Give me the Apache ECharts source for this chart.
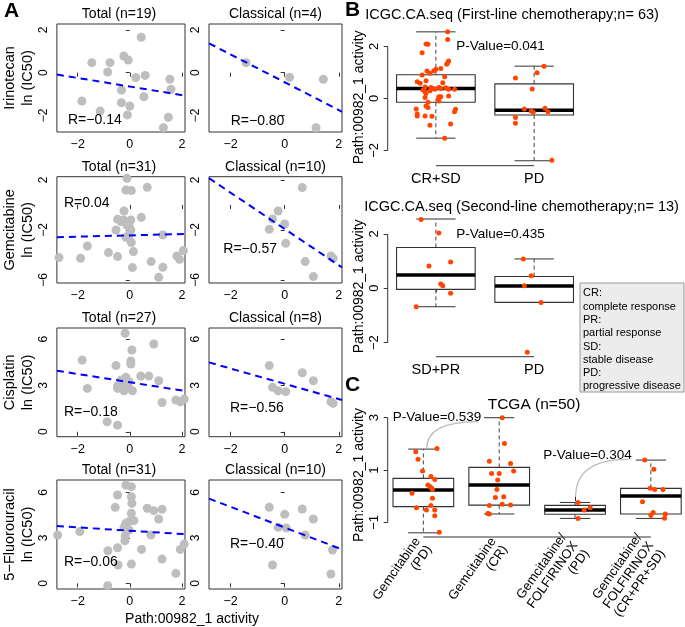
<!DOCTYPE html>
<html>
<head>
<meta charset="utf-8">
<script src="https://cdn.jsdelivr.net/npm/echarts@6/dist/echarts.min.js"></script>
<style>
  html, body { margin: 0; padding: 0; background: #fff; }
  #chart { width: 685px; height: 627px; }
</style>
</head>
<body>
<div id="chart"></div>
<script>
const FONT = '"Liberation Sans", Arial, Helvetica, sans-serif';

// ---- panel A: Path:00982_1 activity (x) vs ln(IC50) (y) ----
const irinoTotal = [[0.44,1.66],[-0.23,0.78],[-0.06,0.59],[-1.46,0.47],[-0.76,0.47],[-0.85,0.03],[0.23,-0.23],[0.59,-0.13],[1.54,-0.31],[1.58,-0.78],[-0.32,-0.81],[0.54,-1.13],[-1.84,-1.33],[-0.32,-1.41],[0.0,-1.56],[-1.14,-1.8],[-0.09,-1.98],[1.48,-2.09],[1.29,-2.58]];
const irinoClassical = [[-1.43,0.47],[0.18,-0.22],[1.43,-0.31],[1.16,-2.58]];
const gemTotal = [[-0.11,2.13],[-0.15,1.2],[0.06,1.15],[0.67,1.41],[-0.22,-0.48],[-0.47,-1.15],[-0.24,-1.2],[0.04,-1.2],[0.44,-0.99],[-0.53,-2.0],[0.04,-2.0],[-0.03,-2.4],[-0.15,-2.59],[0.06,-3.01],[1.27,-2.4],[0.14,-3.73],[-1.63,-3.28],[-2.72,-4.21],[-1.89,-4.27],[-0.82,-3.81],[-0.47,-4.13],[0.82,-4.53],[1.81,-4.08],[1.91,-4.35],[2.06,-3.65],[0.1,-5.01],[1.27,-4.99],[1.11,-5.79],[-0.11,-1.6],[-0.34,-1.33],[-0.03,-1.68]];
const gemClassical = [[0.65,1.39],[-0.24,-0.48],[-0.45,-1.12],[-0.57,-1.95],[0.0,-1.52],[0.04,-3.07],[0.76,-4.53],[1.06,-5.73],[1.71,-4.08],[1.79,-4.27]];
const cisTotal = [[-0.18,6.39],[0.08,5.3],[0.92,5.69],[-1.83,4.65],[-0.53,4.29],[0.04,4.59],[0.04,4.39],[-0.15,3.53],[-0.34,3.35],[-0.47,2.97],[-0.11,3.03],[0.73,3.61],[0.42,3.61],[1.11,3.31],[-1.63,2.81],[-0.47,2.81],[-0.22,2.66],[0.1,2.66],[-0.05,2.88],[1.24,1.9],[1.77,2.06],[1.94,1.95],[2.09,2.12],[-0.87,0.65],[-0.47,0.43],[-0.28,3.03],[-0.03,3.25]];
const cisClassical = [[-0.57,4.29],[0.65,3.83],[1.06,3.31],[-0.45,2.88],[-0.24,2.66],[0.04,2.6],[1.71,1.95],[1.79,1.84]];
const fuTotal = [[-0.15,6.48],[0.06,6.37],[-0.47,5.82],[0.06,5.71],[-0.56,5.01],[0.08,5.27],[0.06,4.62],[0.67,4.95],[0.92,4.79],[1.24,4.88],[1.11,4.24],[-0.03,4.07],[0.16,4.13],[-0.15,3.96],[-0.22,3.69],[-0.03,3.52],[-0.18,3.12],[-0.19,2.81],[-2.77,3.19],[-1.92,3.41],[0.81,3.19],[-0.84,2.15],[-0.47,2.35],[0.45,2.24],[0.06,1.27],[-0.45,1.21],[1.24,1.6],[1.77,0.66],[1.94,2.24],[2.09,2.59],[-0.85,-0.15]];
const fuClassical = [[-0.57,5.01],[0.0,4.55],[0.65,4.9],[1.06,4.24],[-0.24,3.69],[0.06,3.65],[0.76,3.19],[1.77,2.2],[-0.45,1.21],[1.71,0.62]];

const drugs = ['Irinotecan', 'Gemcitabine', 'Cisplatin', '5−Fluorouracil'];
const totalN = [19, 31, 27, 31];
const classicalN = [4, 10, 8, 10];
const rTotal = ['R=−0.14', 'R=0.04', 'R=−0.18', 'R=−0.06'];
const rClassical = ['R=−0.80', 'R=−0.57', 'R=−0.56', 'R=−0.40'];
// fitted lines: [slope, intercept]
const fitTotal = [[-0.201, -0.65], [0.053, -2.43], [-0.268, 3.21], [-0.108, 3.47]];
const fitClassical = [[-0.652, -0.45], [-1.45, -1.92], [-0.496, 3.11], [-0.681, 3.68]];
const aYRange = [[-2.78, 2.28], [-6.24, 2.26], [-0.32, 6.73], [-0.37, 6.81]];
const aYTicks = [[-2, 0, 2], [-6, -2, 2], [0, 3, 6], [0, 3, 6]];
const aXTicks = [-2, 0, 2];

// ---- panel B: ICGC boxplots ----
const firstLineCats = ['CR+SD', 'PD'];
// [x, lowWhisker, Q1, median, Q3, highWhisker]
const firstLineBoxes = [[1, -1.53, -0.15, 0.38, 0.91, 2.56], [2, -2.4, -0.64, -0.46, 0.56, 1.24]];
const firstLinePts = [[1.12,2.56],[1.12,2.27],[0.9,2.09],[0.92,2.08],[0.86,1.76],[1.13,1.44],[1.12,1.37],[1.11,1.31],[1.05,1.15],[1.0,1.12],[0.98,1.06],[0.91,1.05],[0.94,0.97],[0.86,0.9],[1.09,0.83],[0.81,0.64],[0.9,0.68],[0.89,0.44],[0.95,0.42],[0.97,0.38],[1.03,0.42],[1.05,0.38],[1.1,0.41],[1.13,0.35],[1.19,0.35],[0.87,0.32],[0.89,0.26],[0.94,0.29],[0.99,0.35],[0.9,0.19],[0.89,0.03],[1.03,0.06],[1.02,-0.06],[1.05,0.06],[1.13,0.09],[0.92,-0.15],[0.9,-0.29],[0.92,-0.35],[1.03,-0.1],[0.8,-0.41],[0.81,-0.6],[0.81,-0.68],[0.89,-0.68],[0.96,-0.69],[1.2,-0.42],[1.19,-0.51],[1.15,-0.99],[0.94,-1.03],[1.09,-1.53],[0.84,0.58],[1.07,0.6],
  [2.1,1.24],[2.03,0.99],[1.81,0.78],[1.98,0.36],[1.9,-0.41],[1.97,-0.49],[1.99,-0.53],[2.11,-0.38],[2.14,-0.51],[1.81,-0.74],[1.81,-0.96],[2.18,-2.38]];
const secondLineCats = ['SD+PR', 'PD'];
const secondLineBoxes = [[1, -0.68, -0.04, 0.49, 1.5, 2.55], [2, -0.52, -0.52, 0.085, 0.43, 1.08]];
const secondLinePts = [[0.85,2.53],[1.03,2.03],[0.93,0.82],[1.15,0.97],[1.05,0.16],[1.07,0.09],[1.15,-0.18],[0.8,-0.68],
  [1.89,1.08],[1.97,0.46],[1.9,0.09],[2.07,-0.52],[1.93,-2.36]];
const bYTicks = [-2, 0, 2];
const legendLines = ['CR:', 'complete response', 'PR:', 'partial response', 'SD:', 'stable disease', 'PD:', 'progressive disease'];

// ---- panel C: TCGA ----
const tcgaCats = ['Gemcitabine\n(PD)', 'Gemcitabine\n(CR)', 'Gemcitabine/\nFOLFIRINOX\n(PD)', 'Gemcitabine/\nFOLFIRINOX\n(CR+PR+SD)'];
const tcgaBoxes = [[1, -1.4, -0.4, 0.235, 0.68, 1.8], [2, -0.68, -0.34, 0.43, 1.1, 3.0], [3, -0.85, -0.69, -0.53, -0.35, -0.24], [4, -0.85, -0.68, 0.006, 0.3, 1.38]];
const tcgaPts = [[0.9,1.7],[0.93,1.41],[0.99,0.96],[1.1,0.75],[1.15,0.64],[1.09,0.36],[1.11,0.3],[0.85,0.11],[1.12,0.26],[1.12,-0.08],[1.1,-0.36],[0.91,-0.44],[1.04,-0.53],[1.15,-0.53],[1.15,-0.75],[1.21,-1.38],[1.18,1.82],[1.06,0.43],
  [2.04,3.0],[2.07,2.01],[1.87,1.34],[2.15,1.25],[2.19,0.96],[1.9,0.87],[2.0,0.87],[1.98,0.62],[1.97,0.26],[1.95,-0.05],[2.06,-0.02],[1.87,-0.36],[2.04,-0.31],[2.15,-0.34],[1.85,-0.66],[1.87,-0.68],
  [3.04,-0.24],[3.2,-0.44],[3.12,-0.53],[3.04,-0.85],
  [3.92,1.38],[4.04,1.03],[3.99,0.3],[4.05,0.26],[4.16,0.26],[3.89,-0.21],[4.03,-0.62],[4.0,-0.73],[4.19,-0.68],[4.18,-0.84]];
const tcgaPCurves = [[1.045, 1.83, 1.72, 2.85], [3.008, -0.02, 3.70, 1.41]];
const cYTicks = [-1, 1, 3];

const minus = v => String(v).replace('-', '−');

const grids = [], xAxes = [], yAxes = [], series = [], graphics = [];

function txt(text, x, y, size, align, weight) {
  graphics.push({
    type: 'text', x: x, y: y, silent: true, z: 10,
    style: { text: text, font: (weight ? weight + ' ' : '') + size + 'px ' + FONT, fill: '#000', textAlign: align || 'center', textVerticalAlign: 'middle' }
  });
}

function addGrid(g, xa, ya) {
  const i = grids.length;
  grids.push(Object.assign({ containLabel: false }, g));
  xAxes.push(Object.assign({ gridIndex: i, type: 'value', splitLine: { show: false } }, xa));
  yAxes.push(Object.assign({ gridIndex: i, type: 'value', splitLine: { show: false } }, ya));
  return i;
}

// panel A layout
const rowTop = [24, 176.7, 328, 480];
const rowH = [108, 106.3, 108.7, 109];
const colLeft = [53, 209];
const colW = [132, 133];
const rOffset = [[[15, 96], [21.7, 96.7]], [[11, 26], [14.3, 72.6]], [[11, 83.7], [21, 80.3]], [[11, 81.7], [21, 64.3]]];
const allTotal = [irinoTotal, gemTotal, cisTotal, fuTotal];
const allClassical = [irinoClassical, gemClassical, cisClassical, fuClassical];
const xMinA = -2.8, xMaxA = 2.12;

for (let r = 0; r < 4; r++) {
  for (let c = 0; c < 2; c++) {
    const gi = addGrid(
      { left: colLeft[c], top: rowTop[r], width: colW[c], height: rowH[r], show: true, borderColor: '#333', borderWidth: 1 },
      {
        min: xMinA, max: xMaxA,
        axisLine: { show: false },
        axisTick: { show: true, customValues: aXTicks, length: 4, lineStyle: { color: '#333' } },
        axisLabel: { customValues: aXTicks, formatter: minus, margin: 6, fontSize: 12.5, color: '#000', fontFamily: FONT }
      },
      {
        min: aYRange[r][0], max: aYRange[r][1],
        axisLine: { show: false },
        axisTick: { show: true, customValues: aYTicks[r], length: 4, lineStyle: { color: '#333' } },
        axisLabel: { customValues: aYTicks[r], formatter: minus, rotate: 90, margin: 7, fontSize: 12, color: '#000', fontFamily: FONT },
        name: c === 0 ? drugs[r] + '\nln (IC50)' : '',
        nameLocation: 'middle', nameRotate: 90, nameGap: 16,
        nameTextStyle: { fontSize: 14.5, lineHeight: 18, color: '#000', fontFamily: FONT }
      }
    );
    const pts = c === 0 ? allTotal[r] : allClassical[r];
    const fit = c === 0 ? fitTotal[r] : fitClassical[r];
    series.push({ type: 'scatter', xAxisIndex: gi, yAxisIndex: gi, data: pts, symbolSize: 9, itemStyle: { color: '#bebebe', opacity: 1 }, z: 2, silent: true });
    series.push({
      type: 'line', xAxisIndex: gi, yAxisIndex: gi, symbol: 'none', z: 3, silent: true,
      data: [[xMinA, fit[1] + fit[0] * xMinA], [xMaxA, fit[1] + fit[0] * xMaxA]],
      lineStyle: { color: '#0000ff', width: 2, type: [7, 5] }
    });
    const title = (c === 0 ? 'Total (n=' + totalN[r] : 'Classical (n=' + classicalN[r]) + ')';
    txt(title, colLeft[c] + colW[c] / 2, rowTop[r] - 10, 14);
    txt(c === 0 ? rTotal[r] : rClassical[r], colLeft[c] + rOffset[r][c][0], rowTop[r] + rOffset[r][c][1], 14, 'left');
  }
}
txt('Path:00982_1 activity', 192, 619, 14);
txt('A', 4, 11, 21, 'left', 'bold');

// box drawing (R style)
function renderBox(params, api) {
  const x = api.value(0), lo = api.value(1), q1 = api.value(2), med = api.value(3), q3 = api.value(4), hi = api.value(5);
  const p = (a, b) => api.coord([a, b]);
  const kids = [];
  const seg = (a, b, st) => kids.push({ type: 'line', shape: { x1: a[0], y1: a[1], x2: b[0], y2: b[1] }, style: st });
  const dash = { stroke: '#444', lineWidth: 1, lineDash: [4, 3] };
  const solid = { stroke: '#333', lineWidth: 1 };
  if (hi > q3) { seg(p(x, q3), p(x, hi), dash); seg(p(x - 0.2, hi), p(x + 0.2, hi), solid); }
  if (lo < q1) { seg(p(x, q1), p(x, lo), dash); seg(p(x - 0.2, lo), p(x + 0.2, lo), solid); }
  const tl = p(x - 0.4, q3), br = p(x + 0.4, q1);
  kids.push({ type: 'rect', shape: { x: tl[0], y: tl[1], width: br[0] - tl[0], height: br[1] - tl[1] }, style: { fill: '#fff', stroke: '#333', lineWidth: 1.1 } });
  seg(p(x - 0.4, med), p(x + 0.4, med), { stroke: '#000', lineWidth: 3.5 });
  return { type: 'group', children: kids };
}

function boxPanel(g, xr, yr, cats, boxes, pts, yTicks, tickLen, catFont, catRotate) {
  const ticks = cats.map((_, i) => i + 1);
  const gi = addGrid(g,
    {
      min: xr[0], max: xr[1],
      axisLine: { show: false },
      axisTick: { show: true, customValues: ticks, length: tickLen, lineStyle: { color: '#333' } },
      axisLabel: { customValues: ticks, formatter: v => cats[Math.round(v) - 1], margin: 6, fontSize: catFont, lineHeight: catFont + 1, color: '#000', fontFamily: FONT, rotate: catRotate || 0 }
    },
    {
      min: yr[0], max: yr[1],
      axisLine: { show: false },
      axisTick: { show: true, customValues: yTicks, length: 4, lineStyle: { color: '#333' } },
      axisLabel: { customValues: yTicks, formatter: minus, rotate: 90, margin: 7, fontSize: 13, color: '#000', fontFamily: FONT },
      name: 'Path:00982_1 activity', nameLocation: 'middle', nameRotate: 90, nameGap: 17,
      nameTextStyle: { fontSize: 14, lineHeight: 16, color: '#000', fontFamily: FONT }
    });
  series.push({ type: 'custom', xAxisIndex: gi, yAxisIndex: gi, data: boxes, renderItem: renderBox, z: 1, silent: true, clip: false });
  series.push({ type: 'scatter', xAxisIndex: gi, yAxisIndex: gi, data: pts, symbolSize: 5, itemStyle: { color: '#ff4500', opacity: 1 }, z: 3, silent: true });
  // R-style axis lines spanning first..last tick
  series.push({ type: 'line', xAxisIndex: gi, yAxisIndex: gi, symbol: 'none', clip: false, silent: true, z: 2,
    data: [[xr[0], yTicks[0]], [xr[0], yTicks[yTicks.length - 1]]], lineStyle: { color: '#333', width: 1 } });
  series.push({ type: 'line', xAxisIndex: gi, yAxisIndex: gi, symbol: 'none', clip: false, silent: true, z: 2,
    data: [[1, yr[0]], [cats.length, yr[0]]], lineStyle: { color: '#333', width: 1 } });
  return gi;
}

boxPanel({ left: 387.7, top: 29, width: 202.5, height: 136.7 }, [0.51, 2.57], [-2.59, 2.67], firstLineCats, firstLineBoxes, firstLinePts, bYTicks, 4, 14.5);
boxPanel({ left: 387.7, top: 216, width: 202.5, height: 140.7 }, [0.51, 2.57], [-2.52, 2.66], secondLineCats, secondLineBoxes, secondLinePts, bYTicks, 4, 14.5);
const cg = boxPanel({ left: 387.7, top: 413, width: 297.3, height: 124 }, [0.53, 4.45], [-1.56, 3.18], tcgaCats, tcgaBoxes, tcgaPts, cYTicks, 5, 13, 55);

series.push({
  type: 'custom', xAxisIndex: cg, yAxisIndex: cg, data: tcgaPCurves, clip: false, silent: true, z: 2,
  renderItem: (params, api) => {
    const a = api.coord([api.value(0), api.value(1)]), b = api.coord([api.value(2), api.value(3)]);
    return { type: 'bezierCurve', shape: { x1: a[0], y1: a[1], x2: b[0], y2: b[1], cpx1: a[0], cpy1: b[1] }, style: { stroke: '#bbb', fill: null, lineWidth: 1.2 } };
  }
});

txt('ICGC.CA.seq (First-line chemotherapy;n= 63)', 512, 15, 14.5);
txt('P-Value=0.041', 500.5, 46.7, 13.5);
txt('ICGC.CA.seq (Second-line chemotherapy;n= 13)', 521.5, 206.7, 14.5);
txt('P-Value=0.435', 500.5, 234, 13.5);
txt('TCGA (n=50)', 534, 405, 15.5);
txt('P-Value=0.539', 437, 417.7, 13.5);
txt('P-Value=0.304', 587.5, 455, 13.5);
txt('B', 345, 10, 21, 'left', 'bold');
txt('C', 345, 385, 21, 'left', 'bold');

// response legend box
graphics.push({ type: 'rect', silent: true, z: 9, shape: { x: 580, y: 283, width: 104, height: 109 }, style: { fill: '#ececec', stroke: '#999', lineWidth: 1 } });
legendLines.forEach((t, i) => txt(t, 583, 293.3 + i * 13.3, 11, 'left'));

const chart = echarts.init(document.getElementById('chart'), null, { renderer: 'canvas' });
chart.setOption({
  animation: false,
  backgroundColor: '#fff',
  textStyle: { fontFamily: FONT },
  grid: grids,
  xAxis: xAxes,
  yAxis: yAxes,
  series: series,
  graphic: { elements: graphics }
});
</script>
</body>
</html>
